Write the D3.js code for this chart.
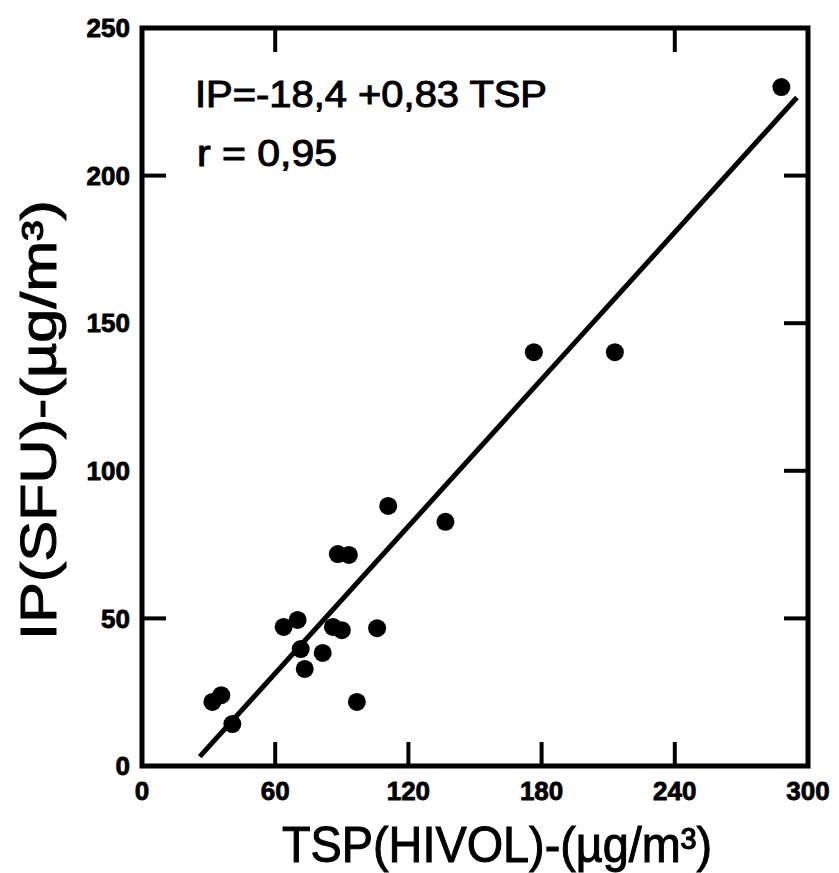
<!DOCTYPE html>
<html><head><meta charset="utf-8">
<script src="https://cdn.jsdelivr.net/npm/d3@7"></script>
<style>body{margin:0;background:#fff}</style>
</head><body>
<script>
const tspValues = [31.7, 35.7, 40.7, 63.8, 70.1, 71.5, 73.3, 81.4, 86, 88.2, 90, 93.2, 96.8, 105.9, 110.9, 136.7, 176.5, 213, 288];
const ipValues  = [21.7, 24, 14.2, 47.1, 49.5, 39.6, 32.9, 38.3, 47.1, 71.8, 46, 71.5, 21.7, 46.7, 88.1, 82.7, 140.2, 140.2, 230];
const xTickValues = [0, 60, 120, 180, 240, 300];
const yTickValues = [0, 50, 100, 150, 200, 250];
const bottomTicks = [60, 120, 180, 240];
const topTicks = [60, 240];
const leftTicks = [50, 200];
const rightTicks = [50, 100, 150, 200];
const fitIntercept = -18.4, fitSlope = 0.83;
const fitRange = [26, 295];
const equationText = "IP=-18,4 +0,83 TSP";
const rText = "r = 0,95";
const xTitle = "TSP(HIVOL)-(µg/m³)";
const yTitle = "IP(SFU)-(µg/m³)";

const W = 839, H = 873;
const svg = d3.select("body").append("svg").attr("width", W).attr("height", H);
const x = d3.scaleLinear().domain([0, 300]).range([142, 808]);
const y = d3.scaleLinear().domain([0, 250]).range([766, 28]);
const font = "'Liberation Sans', Arial, sans-serif";
const tickLen = 24;

// frame
svg.append("rect").attr("x", x(0)).attr("y", y(250))
  .attr("width", x(300) - x(0)).attr("height", y(0) - y(250))
  .attr("fill", "none").attr("stroke", "#000").attr("stroke-width", 5);

// inward ticks
const tg = svg.append("g").attr("stroke", "#000").attr("stroke-width", 4);
tg.selectAll(".bt").data(bottomTicks).join("line")
  .attr("x1", d => x(d)).attr("x2", d => x(d)).attr("y1", y(0)).attr("y2", y(0) - tickLen);
tg.selectAll(".tt").data(topTicks).join("line")
  .attr("x1", d => x(d)).attr("x2", d => x(d)).attr("y1", y(250)).attr("y2", y(250) + tickLen);
tg.selectAll(".lt").data(leftTicks).join("line")
  .attr("y1", d => y(d)).attr("y2", d => y(d)).attr("x1", x(0)).attr("x2", x(0) + tickLen);
tg.selectAll(".rt").data(rightTicks).join("line")
  .attr("y1", d => y(d)).attr("y2", d => y(d)).attr("x1", x(300)).attr("x2", x(300) - tickLen);

// tick labels
svg.append("g").selectAll("text").data(xTickValues).join("text")
  .attr("x", d => x(d)).attr("y", 800).attr("text-anchor", "middle")
  .attr("font-family", font).attr("font-weight", "bold").attr("font-size", 26)
  .attr("stroke", "#000").attr("stroke-width", 0.8)
  .text(d => d);
svg.append("g").selectAll("text").data(yTickValues).join("text")
  .attr("x", 130).attr("y", d => y(d)).attr("dy", "0.35em").attr("text-anchor", "end")
  .attr("font-family", font).attr("font-weight", "bold").attr("font-size", 26)
  .attr("stroke", "#000").attr("stroke-width", 0.8)
  .text(d => d);

// regression line
svg.append("line")
  .attr("x1", x(fitRange[0])).attr("y1", y(fitIntercept + fitSlope * fitRange[0]))
  .attr("x2", x(fitRange[1])).attr("y2", y(fitIntercept + fitSlope * fitRange[1]))
  .attr("stroke", "#000").attr("stroke-width", 5);

// points
svg.append("g").selectAll("circle").data(tspValues.map((t, i) => [t, ipValues[i]])).join("circle")
  .attr("cx", d => x(d[0])).attr("cy", d => y(d[1])).attr("r", 9).attr("fill", "#000");

// annotation
svg.append("text").attr("x", 195).attr("y", 107)
  .attr("font-family", font).attr("font-size", 36).attr("stroke", "#000").attr("stroke-width", 1)
  .attr("textLength", 352).attr("lengthAdjust", "spacingAndGlyphs").text(equationText);
svg.append("text").attr("x", 197).attr("y", 166)
  .attr("font-family", font).attr("font-size", 36).attr("stroke", "#000").attr("stroke-width", 1)
  .attr("textLength", 140).attr("lengthAdjust", "spacingAndGlyphs").text(rText);

// axis titles
svg.append("text").attr("x", 497).attr("y", 862).attr("text-anchor", "middle")
  .attr("font-family", font).attr("font-size", 50).attr("stroke", "#000").attr("stroke-width", 1)
  .attr("textLength", 430).attr("lengthAdjust", "spacingAndGlyphs").text(xTitle);
svg.append("text").attr("transform", "translate(56,420) rotate(-90)").attr("text-anchor", "middle")
  .attr("font-family", font).attr("font-size", 50).attr("stroke", "#000").attr("stroke-width", 1)
  .attr("textLength", 440).attr("lengthAdjust", "spacingAndGlyphs").text(yTitle);
</script>
</body></html>
